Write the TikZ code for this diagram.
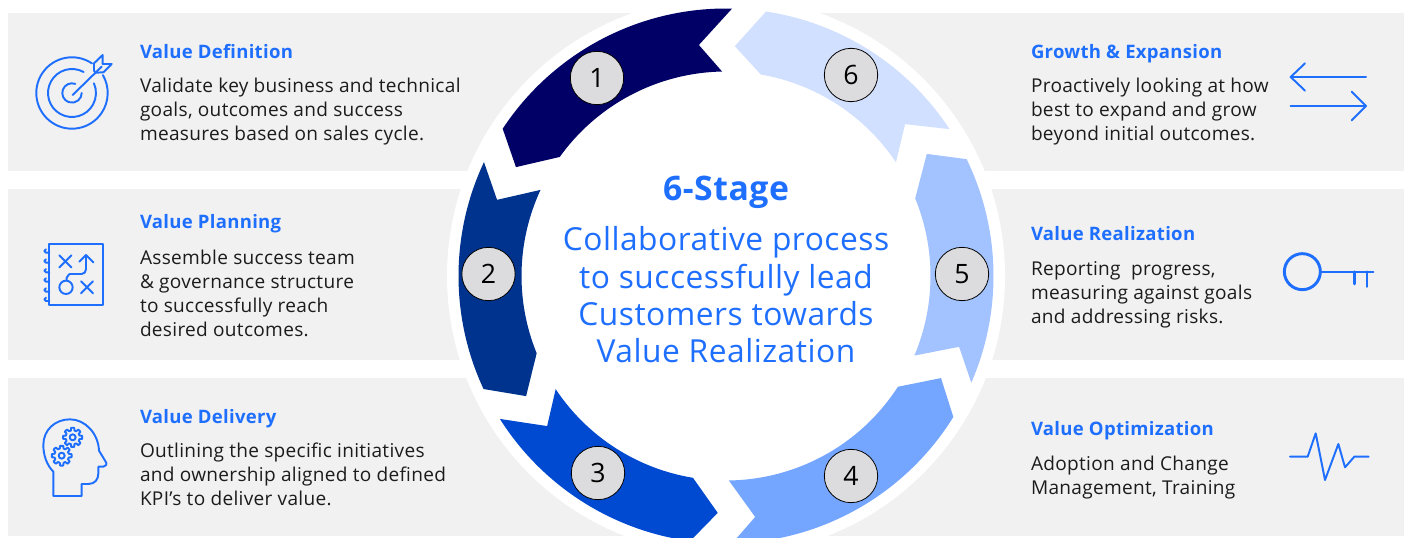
\documentclass[tikz,border=0pt]{standalone}
\usepackage{fontspec}
\setmainfont{Open Sans}[LetterSpace=1.6]
\usetikzlibrary{calc}
\definecolor{vblue}{HTML}{1F6FFF}
\definecolor{panelgray}{HTML}{F1F1F1}
\definecolor{dotgray}{HTML}{DCDCDE}
\definecolor{inkc}{HTML}{1C1C1C}
\definecolor{aone}{HTML}{000066}
\definecolor{atwo}{HTML}{00338D}
\definecolor{athree}{HTML}{0049D1}
\definecolor{afour}{HTML}{75A6FF}
\definecolor{afive}{HTML}{A2C3FF}
\definecolor{asix}{HTML}{D1E0FF}
\tikzset{
  panel/.style={fill=panelgray,draw=none},
  numdot/.style={circle,draw=black,line width=.6pt,fill=dotgray,minimum size=40pt,inner sep=0pt,font=\fontsize{20}{20}\selectfont,text=black},
  headtxt/.style={anchor=base west,inner sep=0pt,outer sep=0pt,text=vblue,font=\fontsize{13.9}{16}\selectfont\bfseries},
  bodytxt/.style={anchor=west,inner sep=0pt,outer sep=0pt,text=inkc,align=left,font=\fontsize{14.3}{18}\selectfont},
  icon/.style={draw=vblue,line width=1.45pt,line cap=round,line join=round},
  zoomA/.style={x=.25pt,y=-.25pt}
}
\begin{document}
\begin{tikzpicture}[x=.75pt,y=.75pt]
\useasboundingbox (0,0) rectangle (1408,538);
\clip (0,0) rectangle (1408,538);
% panels
\fill[panel] (8,525) rectangle (700,367);
\fill[panel] (8,349) rectangle (700,178);
\fill[panel] (8,160) rectangle (700,2);
\fill[panel] (750,525) rectangle (1404,367);
\fill[panel] (750,349) rectangle (1404,178);
\fill[panel] (750,160) rectangle (1404,2);
\fill[white] (726,262) circle[radius=279];
% ring arrows
\begin{scope}[shift={(726,262)}]
\fill[aone] (146.6:267.5) arc[start angle=146.6,end angle=88.7,radius=267.5] -- (96.7:232.6) -- (91.1:204.5) arc[start angle=91.1,end angle=144.4,radius=204.5] -- (152.6:236.6) -- cycle;
\fill[atwo] (205:267.5) arc[start angle=205,end angle=154.8,radius=267.5] -- (161.6:241.3) -- (155.1:204.5) arc[start angle=155.1,end angle=202.2,radius=204.5] -- (211:233.2) -- cycle;
\fill[athree] (262.3:267.5) arc[start angle=262.3,end angle=212.3,radius=267.5] -- (220:233.5) -- (213.6:204.5) arc[start angle=213.6,end angle=260.7,radius=204.5] -- (268:237) -- cycle;
\fill[afour] (328.2:267.5) arc[start angle=328.2,end angle=271.3,radius=267.5] -- (276.9:242.7) -- (270.8:204.5) arc[start angle=270.8,end angle=327.2,radius=204.5] -- (334.6:238) -- cycle;
\fill[afive] (25.9:267.5) arc[start angle=25.9,end angle=-23.5,radius=267.5] -- (-16.9:243.6) -- (-22.9:204.5) arc[start angle=-22.9,end angle=22.3,radius=204.5] -- (31.3:235) -- cycle;
\fill[asix] (81.4:267.5) arc[start angle=81.4,end angle=33.3,radius=267.5] -- (40.3:234.8) -- (33.8:204.5) arc[start angle=33.8,end angle=80.2,radius=204.5] -- (87.8:230) -- cycle;
\end{scope}
% numbers
\node[numdot] (n1) at (597,460) {1};
\node[numdot] (n2) at (488.5,264) {2};
\node[numdot] (n3) at (598,65) {3};
\node[numdot] (n4) at (851,62) {4};
\node[numdot] (n5) at (962,264) {5};
\node[numdot] (n6) at (851,463) {6};
% centre text
\node[anchor=base,inner sep=0pt,text=vblue,font=\fontsize{25.3}{28}\selectfont\bfseries] (ctitle) at (726,337.5) {6-Stage};
\node[inner sep=0pt,text=vblue,align=center,font=\fontsize{23.8}{28}\selectfont] (cbody) at (726,243) {Collaborative process\\to successfully lead\\Customers towards\\Value Realization};
% left texts
\node[headtxt] (h1) at (140,479) {Value Definition};
\node[bodytxt] (b1) at (140,426) {Validate key business and technical\\goals, outcomes and success\\measures based on sales cycle.};
\node[headtxt] (h2) at (140,309) {Value Planning};
\node[bodytxt] (b2) at (140,245) {Assemble success team\\\& governance structure\\to successfully reach\\desired outcomes.};
\node[headtxt] (h3) at (140,114) {Value Delivery};
\node[bodytxt] (b3) at (140,64) {Outlining the specific initiatives\\and ownership aligned to defined\\KPI’s to deliver value.};
% right texts
\node[headtxt] (h6) at (1031,479) {Growth \& Expansion};
\node[bodytxt] (b6) at (1031,426) {Proactively looking at how\\best to expand and grow\\beyond initial outcomes.};
\node[headtxt] (h5) at (1031,297) {Value Realization};
\node[bodytxt] (b5) at (1031,243) {Reporting\ \ progress,\\measuring against goals\\and addressing risks.};
\node[headtxt] (h4) at (1031,102) {Value Optimization};
\node[bodytxt] (b4) at (1031,60) {Adoption and Change\\Management, Training};
% target icon
\draw[icon] (72,445) ++(56:35.7) arc[start angle=56,end angle=390,radius=35.7];
\draw[icon] (72,445) ++(61:24) arc[start angle=61,end angle=384,radius=24];
\draw[icon] (72,445) ++(70:9.7) arc[start angle=70,end angle=360,radius=9.7];
\begin{scope}[shift={(20,498)},zoomA]
\draw[icon] (158,165) -- (245,80);
\draw[icon] (228,98) -- (222,92) -- (222,70) -- (248,45) -- (248,72) -- (275,72) -- (250,97) -- cycle;
\end{scope}
% plan icon
\begin{scope}[shift={(20,308)},zoomA]
\draw[icon] (88,42) rectangle (250,225);
\foreach \yy in {63,93,122,150,180,208}{
  \draw[icon] (88,\yy+5) -- (78,\yy+5) arc[start angle=90,end angle=270,radius=5];
}
\draw[icon] (118,76) -- (154,112) (154,76) -- (118,112);
\draw[icon] (183,154) -- (219,190) (219,154) -- (183,190);
\draw[icon] (138,172) circle[radius=20];
\draw[icon] (140,150) -- (140,142) to[out=-90,in=180] (150,132) -- (185,132) to[out=0,in=-90] (198,118) -- (198,75);
\draw[icon] (178,95) -- (198,75) -- (220,97);
\end{scope}
% head icon
\begin{scope}[shift={(20,128)},zoomA]
\draw[icon] (100,185) -- (100,258) -- (185,258) -- (185,222) -- (205,222) .. controls (225,222) and (235,208) .. (235,190) -- (235,170) -- (250,170) .. controls (258,170) and (262,162) .. (257,155) -- (237,122) .. controls (235,70) and (195,28) .. (150,28) .. controls (105,28) and (70,60) .. (70,105) .. controls (70,135) and (80,165) .. (100,185);
\draw[icon] (158,82) circle[radius=9];
\draw[icon] (125,137) circle[radius=9];
\foreach \cx/\cy/\ro/\ri in {158/82/29/21,125/137/30/22}{
  \draw[icon] \foreach \i in {0,45,...,315}{ ($(\cx,\cy)+(\i-9:\ro)$) -- ($(\cx,\cy)+(\i+9:\ro)$) -- ($(\cx,\cy)+(\i+15:\ri)$) -- ($(\cx,\cy)+(\i+30:\ri)$) -- ($(\cx,\cy)+(\i+36:\ro)$) };
}
\end{scope}
% arrows icon
\begin{scope}[shift={(1270,488)},zoomA]
\draw[icon] (288,81) -- (62,81);
\draw[icon] (105,40) -- (62,81) -- (105,122);
\draw[icon] (62,168) -- (288,168);
\draw[icon] (245,125) -- (288,168) -- (245,211);
\end{scope}
% key icon
\begin{scope}[shift={(1270,298)},zoomA]
\draw[icon,line width=2.2pt] (97,95) circle[radius=54];
\draw[icon] (152,95) -- (310,95);
\draw[icon,line width=1.9pt] (253,95) -- (253,132);
\draw[icon,line width=1.9pt] (291,95) -- (291,140);
\end{scope}
% pulse icon
\begin{scope}[shift={(1270,118)},zoomA]
\draw[icon] (60,110) -- (113,110) -- (137,40) -- (165,180) -- (205,72) -- (225,142) -- (253,110) -- (296,110);
\end{scope}
\end{tikzpicture}
\end{document}
